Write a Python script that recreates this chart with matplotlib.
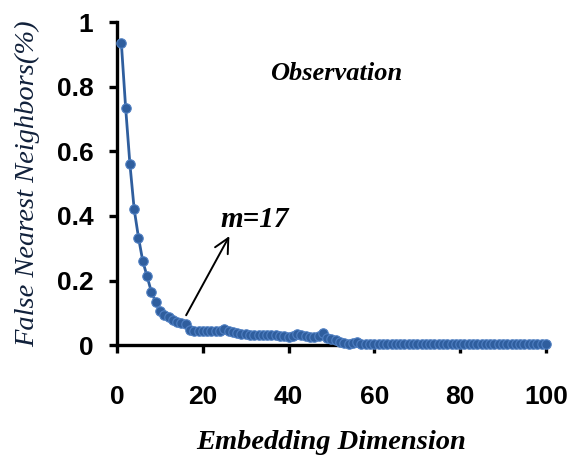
import matplotlib

matplotlib.use("Agg")

import matplotlib.pyplot as plt
import numpy as np

# embedding dimension 1..100 and false nearest neighbour ratio
dims = np.arange(1, 101)
fnn_head = [0.935, 0.735, 0.56, 0.42, 0.333, 0.26, 0.213, 0.165, 0.134, 0.105,
            0.093, 0.087, 0.077, 0.071, 0.068, 0.064, 0.047, 0.044, 0.045, 0.044,
            0.043, 0.044, 0.045, 0.044, 0.05, 0.044, 0.04, 0.037, 0.036, 0.034,
            0.031, 0.031, 0.032, 0.03, 0.031, 0.031, 0.03, 0.028, 0.027, 0.026,
            0.028, 0.036, 0.03, 0.027, 0.026, 0.025, 0.027, 0.037, 0.022, 0.018,
            0.015, 0.01, 0.006, 0.005, 0.006, 0.009, 0.005]
fnn = np.array(fnn_head + [0.005] * (100 - len(fnn_head)))

x_ticks = [0, 20, 40, 60, 80, 100]
y_ticks = [0, 0.2, 0.4, 0.6, 0.8, 1]
y_ticklabels = ["0", "0.2", "0.4", "0.6", "0.8", "1"]

blue = "#2F5E9E"
serif = "Liberation Serif"

fig = plt.figure(figsize=(5.71, 4.59), dpi=100)
ax = fig.add_axes([0.205, 0.248, 0.751, 0.704])

ax.plot(dims, fnn, color=blue, linewidth=2.0, marker="o", markersize=6.8,
        markerfacecolor=blue, markeredgecolor="#4F7FC2", markeredgewidth=0.8,
        clip_on=False, zorder=3)

ax.set_xlim(0, 100)
ax.set_ylim(0, 1)
ax.set_xticks(x_ticks)
ax.set_yticks(y_ticks)
ax.set_yticklabels(y_ticklabels)

for side in ("top", "right"):
    ax.spines[side].set_visible(False)
for side in ("left", "bottom"):
    ax.spines[side].set_linewidth(2.4)
ax.tick_params(axis="both", direction="out", length=6, width=2.4, color="black")
ax.tick_params(axis="x", pad=23)
ax.tick_params(axis="y", pad=11)
for lab in ax.get_xticklabels() + ax.get_yticklabels():
    lab.set_fontfamily("Liberation Sans")
    lab.set_fontweight("bold")
    lab.set_fontsize(19)

ax.set_xlabel("Embedding Dimension", family=serif, style="italic",
              weight="bold", fontsize=20.5, labelpad=15)
ax.set_ylabel("False Nearest Neighbors(%)", family=serif, style="italic",
              fontsize=20.5, color="#10203A", labelpad=12)

ax.text(51, 0.84, "Observation", family=serif, style="italic", weight="bold",
        fontsize=19, ha="center", va="center")
ax.text(32, 0.39, "m=17", family=serif, style="italic", weight="bold",
        fontsize=21, ha="center", va="center")
ax.annotate("", xy=(26.5, 0.345), xytext=(15.8, 0.085),
            arrowprops=dict(arrowstyle="->", color="black", lw=1.4,
                            mutation_scale=26))

fig.savefig("out.png", dpi=100)
plt.close(fig)
